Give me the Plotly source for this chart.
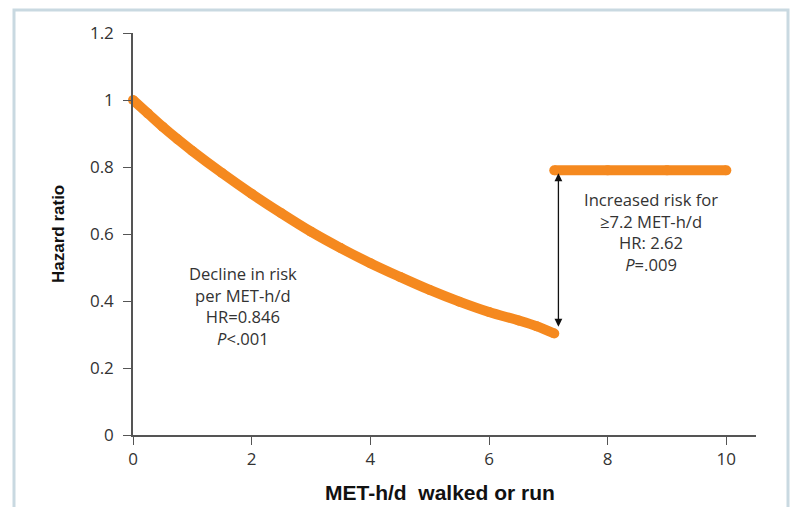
import plotly.graph_objects as go

# Data
decline_x = [0, 0.25, 0.5, 0.75, 1.0, 1.5, 2.0, 2.5, 3.0, 3.5, 4.0, 4.5, 5.0, 5.5, 6.0, 6.5, 6.8, 7.1]
decline_y = [1.0, 0.96, 0.92, 0.883, 0.848, 0.782, 0.72, 0.662, 0.607, 0.558, 0.513, 0.472, 0.433, 0.398, 0.367, 0.342, 0.325, 0.303]
flat_x = [7.1, 8.0, 9.0, 10.0]
flat_y = [0.79, 0.79, 0.79, 0.79]
x_ticks = [0, 2, 4, 6, 8, 10]
y_ticks = [0, 0.2, 0.4, 0.6, 0.8, 1.0, 1.2]
y_tick_labels = ["0", "0.2", "0.4", "0.6", "0.8", "1", "1.2"]
arrow_x = 7.17
arrow_top = 0.79
arrow_bottom = 0.31

decline_text = "Decline in risk<br>per MET-h/d<br>HR=0.846<br><i>P</i><.001"
decline_pos = (1.86, 0.384)
increase_text = "Increased risk for<br>≥7.2 MET-h/d<br>HR: 2.62<br><i>P</i>=.009"
increase_pos = (8.73, 0.607)

ORANGE = "#F5891F"
TXT = "#333333"
FONT = "Open Sans, Lato, sans-serif"
BOLD = "Liberation Sans Narrow, Liberation Sans, Arial, sans-serif"

fig = go.Figure()
fig.add_trace(go.Scatter(x=decline_x, y=decline_y, mode="lines+markers",
                         line=dict(color=ORANGE, width=10, shape="spline"),
                         marker=dict(color=ORANGE, size=10), cliponaxis=False,
                         hoverinfo="skip", showlegend=False))
fig.add_trace(go.Scatter(x=flat_x, y=flat_y, mode="lines+markers",
                         line=dict(color=ORANGE, width=10),
                         marker=dict(color=ORANGE, size=10), cliponaxis=False,
                         hoverinfo="skip", showlegend=False))

annotations = [
    dict(x=arrow_x, y=arrow_top, ax=arrow_x, ay=arrow_bottom, xref="x", yref="y",
         axref="x", ayref="y", text="", showarrow=True, arrowhead=2, arrowside="end+start",
         arrowsize=1.2, arrowwidth=1.3, arrowcolor="#111111", standoff=3, startstandoff=3),
    dict(x=(440 - 133) / 623, y=(435 - 492) / 402, xref="paper", yref="paper",
         showarrow=False, text="<b>MET-h/d  walked or run</b>", xanchor="center", yanchor="middle",
         font=dict(family=BOLD, size=21, color="#111111")),
    dict(x=(58 - 133) / 623, y=(435 - 234) / 402, xref="paper", yref="paper",
         showarrow=False, text="<b>Hazard ratio</b>", textangle=-90, xanchor="center", yanchor="middle",
         font=dict(family=BOLD, size=17, color="#111111")),
]
for t, (cx, cy) in [(decline_text, decline_pos), (increase_text, increase_pos)]:
    annotations.append(dict(x=cx, y=cy, xref="x", yref="y", showarrow=False,
                            text=t, xanchor="center", yanchor="middle", align="center",
                            font=dict(family=FONT, size=16.6, color=TXT)))

fig.update_layout(
    width=795, height=507,
    margin=dict(l=133, r=39, t=33, b=72),
    paper_bgcolor="white", plot_bgcolor="white",
    annotations=annotations,
    shapes=[dict(type="rect", xref="paper", yref="paper",
                 x0=(14 - 133) / 623, x1=(788 - 133) / 623,
                 y0=(435 - 520) / 402, y1=(435 - 10) / 402,
                 line=dict(color="#C9D9E1", width=3), fillcolor="rgba(0,0,0,0)", layer="below")],
)
fig.update_xaxes(range=[0, 10.5], tickvals=x_ticks, ticks="outside", ticklen=8, tickwidth=1.3,
                 tickcolor="#555", showline=True, linecolor="#555", linewidth=1.5,
                 showgrid=False, zeroline=False, tickfont=dict(family=FONT, size=17, color=TXT))
fig.update_yaxes(range=[0, 1.2], tickvals=y_ticks, ticktext=y_tick_labels, ticks="outside",
                 ticklen=8, tickwidth=1.3, tickcolor="#555", showline=True, linecolor="#555",
                 linewidth=1.5, showgrid=False, zeroline=False, ticklabelstandoff=6,
                 tickfont=dict(family=FONT, size=17, color=TXT))

fig.write_html("out.html")
